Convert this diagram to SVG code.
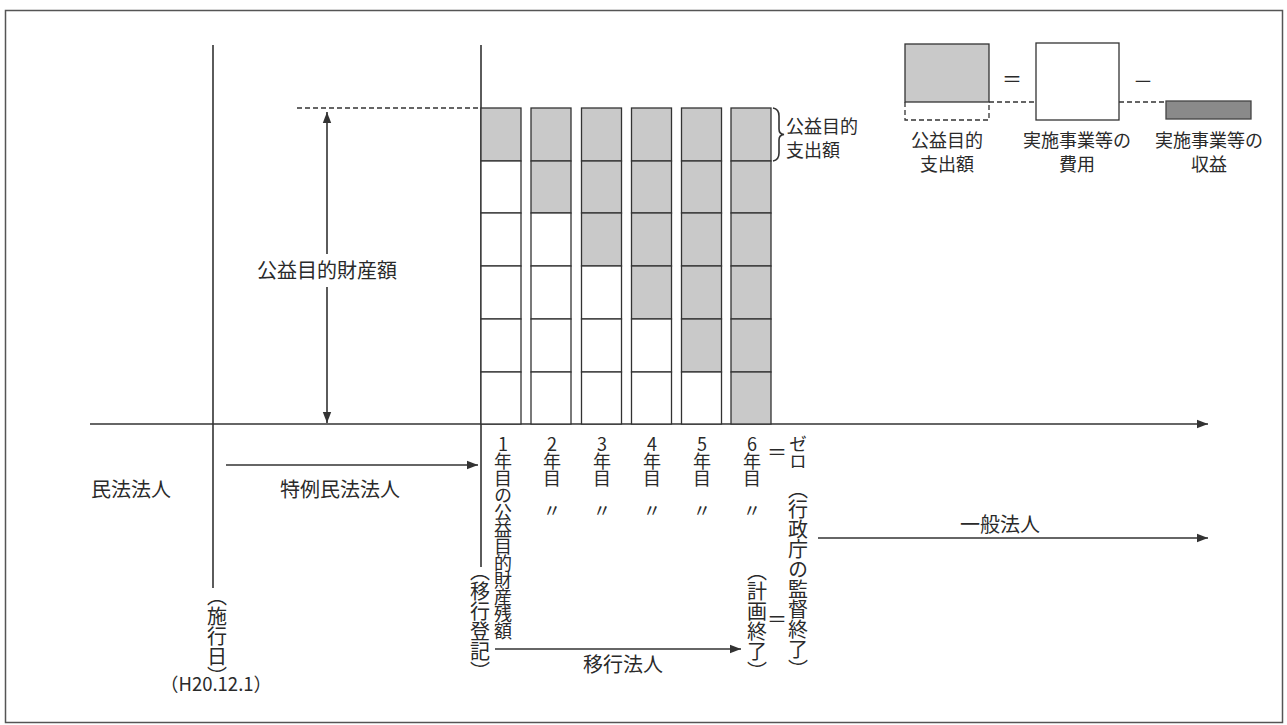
<svg xmlns="http://www.w3.org/2000/svg" width="1287" height="725" viewBox="0 0 1287 725">
<style>
text{font-family:"Noto Sans CJK JP","Noto Sans",sans-serif;fill:#2a2a2a}
.t20{font-size:20px}
.t18{font-size:18px}
.vt{writing-mode:vertical-rl;text-orientation:upright;font-size:20px}
.vc{writing-mode:vertical-rl;text-orientation:upright;font-size:18px;letter-spacing:-1px}
.ln{stroke:#333;stroke-width:1.6;fill:none}
.cell{stroke:#333;stroke-width:1.3;fill:#fff}
.g{fill:#c9c9c9}
.dash{stroke:#333;stroke-width:1.3;stroke-dasharray:5 3;fill:none}
</style>
<defs>
<marker id="ah" markerWidth="12" markerHeight="10" refX="11" refY="5" orient="auto-start-reverse" markerUnits="userSpaceOnUse">
<path d="M0,0.8 L11,5 L0,9.2 Z" fill="#333"/>
</marker>
</defs>
<rect x="5.5" y="10.5" width="1277" height="712" fill="#fff" stroke="#555" stroke-width="1.5"/>

<g id="connectors">
<line class="ln" x1="213" y1="45" x2="213" y2="588"/>
<line class="ln" x1="481" y1="45" x2="481" y2="567"/>
<line class="ln" x1="90" y1="424" x2="1208" y2="424" marker-end="url(#ah)"/>
<line class="dash" x1="297" y1="108" x2="481" y2="108"/>
<line class="ln" x1="327" y1="254" x2="327" y2="112" marker-end="url(#ah)"/>
<line class="ln" x1="327" y1="287" x2="327" y2="423" marker-end="url(#ah)"/>
<line class="ln" x1="226" y1="465" x2="478" y2="465" marker-end="url(#ah)"/>
<line class="ln" x1="495" y1="649" x2="741" y2="649" marker-end="url(#ah)"/>
<line class="ln" x1="818" y1="538" x2="1208" y2="538" marker-end="url(#ah)"/>
<path class="ln" stroke-width="1.2" d="M773,108 Q779,109 779,116 L779,129 Q779,134 784,134.5 Q779,135 779,140 L779,153 Q779,160 773,161"/>
</g>

<g id="bars">
<g id="bar1">
<rect class="cell g" x="481" y="108" width="40" height="53"/>
<rect class="cell" x="481" y="161" width="40" height="52"/>
<rect class="cell" x="481" y="213" width="40" height="53"/>
<rect class="cell" x="481" y="266" width="40" height="53"/>
<rect class="cell" x="481" y="319" width="40" height="53"/>
<rect class="cell" x="481" y="372" width="40" height="52"/>
</g>
<g id="bar2">
<rect class="cell g" x="531" y="108" width="40" height="53"/>
<rect class="cell g" x="531" y="161" width="40" height="52"/>
<rect class="cell" x="531" y="213" width="40" height="53"/>
<rect class="cell" x="531" y="266" width="40" height="53"/>
<rect class="cell" x="531" y="319" width="40" height="53"/>
<rect class="cell" x="531" y="372" width="40" height="52"/>
</g>
<g id="bar3">
<rect class="cell g" x="581.5" y="108" width="40" height="53"/>
<rect class="cell g" x="581.5" y="161" width="40" height="52"/>
<rect class="cell g" x="581.5" y="213" width="40" height="53"/>
<rect class="cell" x="581.5" y="266" width="40" height="53"/>
<rect class="cell" x="581.5" y="319" width="40" height="53"/>
<rect class="cell" x="581.5" y="372" width="40" height="52"/>
</g>
<g id="bar4">
<rect class="cell g" x="631.5" y="108" width="40" height="53"/>
<rect class="cell g" x="631.5" y="161" width="40" height="52"/>
<rect class="cell g" x="631.5" y="213" width="40" height="53"/>
<rect class="cell g" x="631.5" y="266" width="40" height="53"/>
<rect class="cell" x="631.5" y="319" width="40" height="53"/>
<rect class="cell" x="631.5" y="372" width="40" height="52"/>
</g>
<g id="bar5">
<rect class="cell g" x="681.5" y="108" width="40" height="53"/>
<rect class="cell g" x="681.5" y="161" width="40" height="52"/>
<rect class="cell g" x="681.5" y="213" width="40" height="53"/>
<rect class="cell g" x="681.5" y="266" width="40" height="53"/>
<rect class="cell g" x="681.5" y="319" width="40" height="53"/>
<rect class="cell" x="681.5" y="372" width="40" height="52"/>
</g>
<g id="bar6">
<rect class="cell g" x="731" y="108" width="40" height="53"/>
<rect class="cell g" x="731" y="161" width="40" height="52"/>
<rect class="cell g" x="731" y="213" width="40" height="53"/>
<rect class="cell g" x="731" y="266" width="40" height="53"/>
<rect class="cell g" x="731" y="319" width="40" height="53"/>
<rect class="cell g" x="731" y="372" width="40" height="52"/>
</g>
</g>

<g id="legend">
<rect class="cell g" x="905" y="44" width="84" height="58"/>
<path class="dash" d="M905,102 L905,120 L989,120 L989,102"/>
<line class="dash" x1="989" y1="102" x2="1036" y2="102"/>
<text class="t20" x="1012" y="87" text-anchor="middle">＝</text>
<rect class="cell" x="1036" y="43" width="83" height="77"/>
<text class="t20" x="1143" y="89" text-anchor="middle">－</text>
<line class="dash" x1="1119" y1="102" x2="1166" y2="102"/>
<rect x="1166" y="101" width="85" height="18" fill="#8a8a8a" stroke="#444" stroke-width="1.3"/>
<text class="t18" x="947" y="147" text-anchor="middle">公益目的</text>
<text class="t18" x="947" y="171" text-anchor="middle">支出額</text>
<text class="t18" x="1077" y="147" text-anchor="middle">実施事業等の</text>
<text class="t18" x="1077" y="171" text-anchor="middle">費用</text>
<text class="t18" x="1209" y="147" text-anchor="middle">実施事業等の</text>
<text class="t18" x="1209" y="171" text-anchor="middle">収益</text>
</g>

<g id="labels">
<text class="t18" x="786" y="133">公益目的</text>
<text class="t18" x="786" y="157">支出額</text>
<text class="t20" x="327" y="278" text-anchor="middle">公益目的財産額</text>
<text class="t20" x="91" y="497">民法法人</text>
<text class="t20" x="340" y="497" text-anchor="middle">特例民法法人</text>
<text class="t20" x="623" y="672" text-anchor="middle">移行法人</text>
<text class="t20" x="1000" y="532" text-anchor="middle">一般法人</text>
<text class="vt" x="217" y="586">（施行日）</text>
<text style="font-size:18.5px" x="216" y="691" text-anchor="middle">（H20.12.1）</text>
<text class="vc" x="503" y="435">1年目の公益目的財産残額</text>
<text class="vt" x="480" y="561">（移行登記）</text>
<text class="vc" x="552" y="435">2年目</text>
<text class="vc" x="602" y="435">3年目</text>
<text class="vc" x="652" y="435">4年目</text>
<text class="vc" x="702" y="435">5年目</text>
<text class="vc" x="752" y="435">6年目</text>
<text class="t18" x="552" y="517" text-anchor="middle">〃</text>
<text class="t18" x="602" y="517" text-anchor="middle">〃</text>
<text class="t18" x="652" y="517" text-anchor="middle">〃</text>
<text class="t18" x="702" y="517" text-anchor="middle">〃</text>
<text class="t18" x="752" y="517" text-anchor="middle">〃</text>
<text class="t20" x="777" y="460" text-anchor="middle">＝</text>
<text class="vc" x="798" y="435">ゼロ</text>
<text class="vt" x="798" y="479">（行政庁の監督終了）</text>
<text class="vt" x="757" y="561">（計画終了）</text>
<text class="t20" x="777" y="627" text-anchor="middle">＝</text>
</g>
</svg>
